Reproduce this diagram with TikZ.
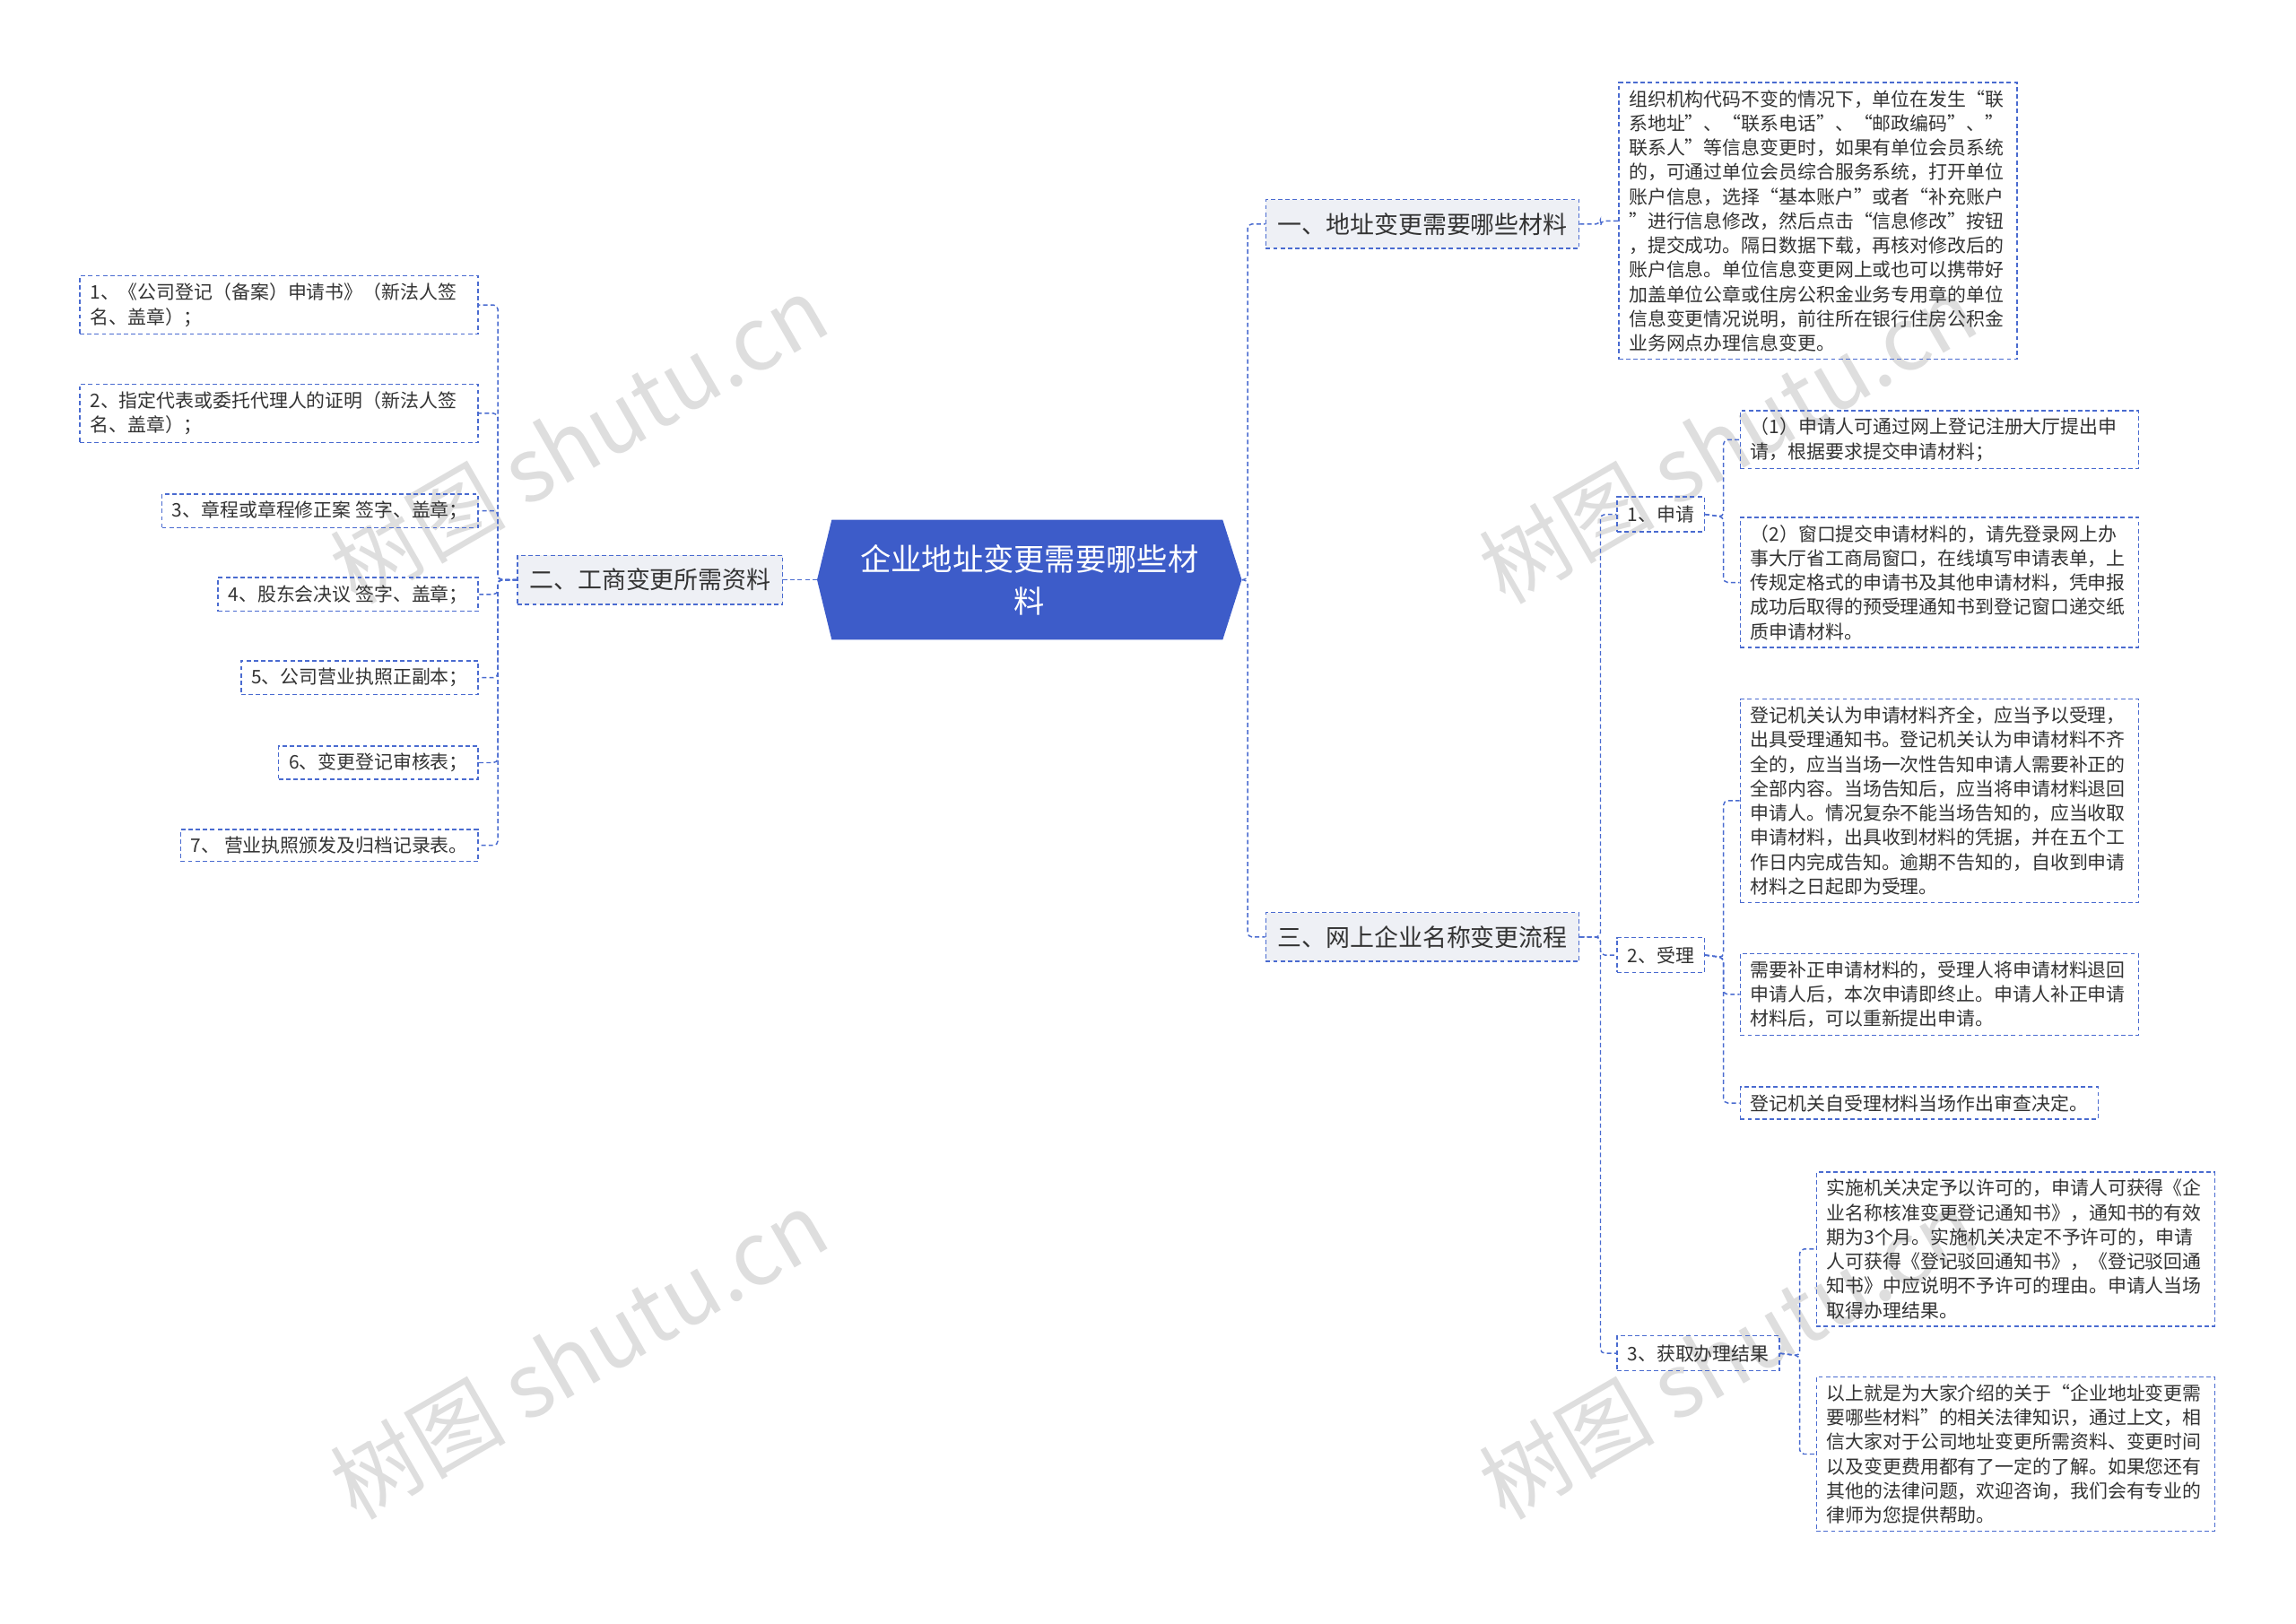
\documentclass[tikz,border=0pt]{standalone}
\usepackage{fontspec}
\setmainfont{Noto Sans CJK SC}
\definecolor{ln}{HTML}{4A6BD0}
\definecolor{cen}{HTML}{3D5CC9}
\definecolor{br}{HTML}{EEF0F5}
\tikzset{
 x=1pt,y=-1pt,
 lk/.style={draw=ln,line width=0.9pt,dash pattern=on 3pt off 2pt,rounded corners=3pt},
 leaf/.style={draw=ln,line width=0.9pt,dash pattern=on 3pt off 2pt,inner xsep=7pt,inner ysep=5pt,align=left,font=\fontsize{12.8}{16.7}\selectfont,text=black!80,anchor=north west},
 brn/.style={leaf,fill=br,font=\fontsize{16.5}{19}\selectfont,inner ysep=9pt,inner xsep=8pt},
 sub/.style={leaf,inner ysep=6pt,inner xsep=7pt},
 wm/.style={text=black!13,font=\fontsize{60}{60}\selectfont,rotate=30}
}
\begin{document}
\begin{tikzpicture}
\useasboundingbox (0,0) rectangle (1568,1109);
\node[wm] at (395,300) {树图 shutu.cn};
\node[wm] at (395,925) {树图 shutu.cn};
\node[wm] at (1180,300) {树图 shutu.cn};
\node[wm] at (1180,925) {树图 shutu.cn};
% center
\fill[cen] (568,355) -- (835,355) -- (848,396) -- (835,437) -- (568,437) -- (558,396) -- cycle;
\node[text=white,align=center,font=\fontsize{21}{29}\selectfont,inner sep=0pt,minimum width=290pt,minimum height=82pt] (c) at (703,396) {企业地址变更需要哪些材\\料};
% left branch
\node[brn,anchor=east] (b2) at (535,396) {二、工商变更所需资料};
\node[leaf,anchor=north east,text width=258pt] (l1) at (327,188) {1、《公司登记（备案）申请书》（新法人签\\名、盖章）；};
\node[leaf,anchor=north east,text width=258pt] (l2) at (327,262) {2、指定代表或委托代理人的证明（新法人签\\名、盖章）；};
\node[leaf,anchor=north east] (l3) at (327,337) {3、章程或章程修正案 签字、盖章；};
\node[leaf,anchor=north east] (l4) at (327,394) {4、股东会决议 签字、盖章；};
\node[leaf,anchor=north east] (l5) at (327,451) {5、公司营业执照正副本；};
\node[leaf,anchor=north east] (l6) at (327,509) {6、变更登记审核表；};
\node[leaf,anchor=north east] (l7) at (327,566) {7、 营业执照颁发及归档记录表。};
\draw[lk] (c.west) -- (b2.east);
\coordinate (lj) at (340,396);
\foreach \n in {l1,l2,l3,l4,l5,l6,l7} \draw[lk] (b2.west) -- (lj) |- (\n.east);
% right branches
\node[brn,anchor=west] (b1) at (864,153) {一、地址变更需要哪些材料};
\node[brn,anchor=west] (b3) at (864,640) {三、网上企业名称变更流程};
\coordinate (rj) at (852,396);
\draw[lk] (c.east) -- (rj) |- (b1.west);
\draw[lk] (c.east) -- (rj) |- (b3.west);
\node[leaf,text width=258pt] (a1) at (1105,56) {组织机构代码不变的情况下，单位在发生“联\\系地址”、“联系电话”、“邮政编码”、”\\联系人”等信息变更时，如果有单位会员系统\\的，可通过单位会员综合服务系统，打开单位\\账户信息，选择“基本账户”或者“补充账户\\”进行信息修改，然后点击“信息修改”按钮\\，提交成功。隔日数据下载，再核对修改后的\\账户信息。单位信息变更网上或也可以携带好\\加盖单位公章或住房公积金业务专用章的单位\\信息变更情况说明，前往所在银行住房公积金\\业务网点办理信息变更。};
\draw[lk] (b1.east) -- (1093,153) |- (a1.west);
% sub
\node[sub] (s1) at (1104,339) {1、申请};
\node[sub] (s2) at (1104,640) {2、受理};
\node[sub] (s3) at (1104,912) {3、获取办理结果};
\coordinate (sj) at (1093,640);
\foreach \n in {s1,s2,s3} \draw[lk] (b3.east) -- (sj) |- (\n.west);
\node[leaf,text width=258pt] (p1) at (1188,280) {（1）申请人可通过网上登记注册大厅提出申\\请，根据要求提交申请材料；};
\node[leaf,text width=258pt] (p2) at (1188,353) {（2）窗口提交申请材料的，请先登录网上办\\事大厅省工商局窗口，在线填写申请表单，上\\传规定格式的申请书及其他申请材料，凭申报\\成功后取得的预受理通知书到登记窗口递交纸\\质申请材料。};
\foreach \n in {p1,p2} \draw[lk] (s1.east) -- (1177,353) |- (\n.west);
\node[leaf,text width=258pt] (q1) at (1188,477) {登记机关认为申请材料齐全，应当予以受理，\\出具受理通知书。登记机关认为申请材料不齐\\全的，应当当场一次性告知申请人需要补正的\\全部内容。当场告知后，应当将申请材料退回\\申请人。情况复杂不能当场告知的，应当收取\\申请材料，出具收到材料的凭据，并在五个工\\作日内完成告知。逾期不告知的，自收到申请\\材料之日起即为受理。};
\node[leaf,text width=258pt] (q2) at (1188,651) {需要补正申请材料的，受理人将申请材料退回\\申请人后，本次申请即终止。申请人补正申请\\材料后，可以重新提出申请。};
\node[leaf] (q3) at (1188,742) {登记机关自受理材料当场作出审查决定。};
\foreach \n in {q1,q2,q3} \draw[lk] (s2.east) -- (1177,654) |- (\n.west);
\node[leaf,text width=258pt] (r1) at (1240,800) {实施机关决定予以许可的，申请人可获得《企\\业名称核准变更登记通知书》，通知书的有效\\期为3个月。实施机关决定不予许可的，申请\\人可获得《登记驳回通知书》，《登记驳回通\\知书》中应说明不予许可的理由。申请人当场\\取得办理结果。};
\node[leaf,text width=258pt] (r2) at (1240,940) {以上就是为大家介绍的关于“企业地址变更需\\要哪些材料”的相关法律知识，通过上文，相\\信大家对于公司地址变更所需资料、变更时间\\以及变更费用都有了一定的了解。如果您还有\\其他的法律问题，欢迎咨询，我们会有专业的\\律师为您提供帮助。};
\foreach \n in {r1,r2} \draw[lk] (s3.east) -- (1229,926) |- (\n.west);
\end{tikzpicture}
\end{document}
